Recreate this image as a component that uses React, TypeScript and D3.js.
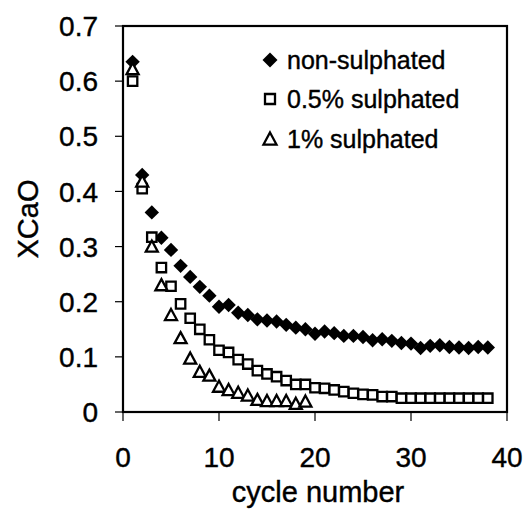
import React from "react";
import * as d3 from "d3";

const cyclesNon = d3.range(1, 39);
const nonSulphated = [
  0.635, 0.43, 0.362, 0.316, 0.294, 0.265, 0.245, 0.227, 0.211, 0.191,
  0.194, 0.18, 0.176, 0.168, 0.166, 0.164, 0.158, 0.153, 0.15, 0.142,
  0.146, 0.143, 0.138, 0.138, 0.136, 0.13, 0.132, 0.129, 0.125, 0.124,
  0.116, 0.12, 0.121, 0.118, 0.117, 0.116, 0.118, 0.117,
];
const cyclesHalf = d3.range(1, 39);
const halfSulphated = [
  0.6, 0.405, 0.317, 0.262, 0.228, 0.196, 0.17, 0.15, 0.131, 0.112,
  0.108, 0.095, 0.087, 0.075, 0.069, 0.064, 0.057, 0.05, 0.05, 0.044,
  0.043, 0.04, 0.037, 0.034, 0.032, 0.031, 0.028, 0.028, 0.025, 0.025,
  0.025, 0.025, 0.025, 0.025, 0.025, 0.025, 0.025, 0.025,
];
const cyclesOne = d3.range(1, 20);
const oneSulphated = [
  0.622, 0.418, 0.3, 0.23, 0.176, 0.134, 0.097, 0.073, 0.066, 0.046,
  0.04, 0.035, 0.03, 0.022, 0.02, 0.02, 0.02, 0.015, 0.019,
];
const xTicks = [0, 10, 20, 30, 40];
const yTicks = [0, 0.1, 0.2, 0.3, 0.4, 0.5, 0.6, 0.7];
const legendLabels = ["non-sulphated", "0.5% sulphated", "1% sulphated"];

const W = 525;
const H = 521;
const M = { left: 123, right: 507, top: 26, bottom: 412 };
const FONT = "'Liberation Sans', Arial, sans-serif";

const diamond = (s: number) => `M0,${-s}L${s},0L0,${s}L${-s},0Z`;
const square = (s: number) => `M${-s},${-s}H${s}V${s}H${-s}Z`;
const triangle = (s: number) => `M0,${-s}L${s},${s * 0.85}L${-s},${s * 0.85}Z`;

const textProps = { fill: "#000", stroke: "#000", strokeWidth: 0.4 };

export default function App() {
  const x = d3.scaleLinear().domain([0, 40]).range([M.left, M.right]);
  const y = d3.scaleLinear().domain([0, 0.7]).range([M.bottom, M.top]);

  const fmtY = (v: number) => (v === 0 ? "0" : d3.format(".1f")(v));

  const legendY = [60, 99, 139];

  return (
    <svg
      width={W}
      height={H}
      style={{ position: "absolute", left: 0, top: 0, background: "#fff" }}
      fontFamily={FONT}
    >
      <rect x={0} y={0} width={W} height={H} fill="#fff" />
      {/* y ticks */}
      {yTicks.map((t) => (
        <g key={"y" + t}>
          <line x1={M.left - 8} x2={M.left} y1={y(t)} y2={y(t)} stroke="#000" strokeWidth={1.2} />
          <text x={98} y={y(t)} dy="0.36em" textAnchor="end" fontSize={28} {...textProps}>
            {fmtY(t)}
          </text>
        </g>
      ))}
      {/* x ticks */}
      {xTicks.map((t) => (
        <g key={"x" + t}>
          <line x1={x(t)} x2={x(t)} y1={M.bottom} y2={M.bottom + 9} stroke="#000" strokeWidth={1.2} />
          <text x={x(t)} y={467} textAnchor="middle" fontSize={28} {...textProps}>
            {t}
          </text>
        </g>
      ))}
      {/* frame */}
      <rect
        x={M.left}
        y={M.top}
        width={M.right - M.left}
        height={M.bottom - M.top}
        fill="none"
        stroke="#000"
        strokeWidth={2.2}
      />
      {/* axis titles */}
      <text x={318} y={502} textAnchor="middle" fontSize={29} {...textProps}>
        cycle number
      </text>
      <text
        transform={`translate(38,${(M.top + M.bottom) / 2}) rotate(-90)`}
        textAnchor="middle"
        fontSize={29}
        {...textProps}
      >
        XCaO
      </text>
      {/* data */}
      {nonSulphated.map((v, i) => (
        <path
          key={"d" + i}
          d={diamond(7.2)}
          transform={`translate(${x(cyclesNon[i])},${y(v)})`}
          fill="#000"
        />
      ))}
      {halfSulphated.map((v, i) => (
        <path
          key={"s" + i}
          d={square(4.7)}
          transform={`translate(${x(cyclesHalf[i])},${y(v)})`}
          fill="#fff"
          stroke="#000"
          strokeWidth={2.3}
        />
      ))}
      {oneSulphated.map((v, i) => (
        <path
          key={"t" + i}
          d={triangle(6)}
          transform={`translate(${x(cyclesOne[i])},${y(v)})`}
          fill="#fff"
          stroke="#000"
          strokeWidth={2.3}
        />
      ))}
      {/* legend */}
      <path d={diamond(7.5)} transform={`translate(270,${legendY[0]})`} fill="#000" />
      <path
        d={square(5)}
        transform={`translate(270,${legendY[1]})`}
        fill="#fff"
        stroke="#000"
        strokeWidth={2.3}
      />
      <path
        d={triangle(6.5)}
        transform={`translate(270,${legendY[2]})`}
        fill="#fff"
        stroke="#000"
        strokeWidth={2.3}
      />
      {legendLabels.map((l, i) => (
        <text key={l} x={287} y={legendY[i]} dy="0.36em" fontSize={25} {...textProps}>
          {l}
        </text>
      ))}
    </svg>
  );
}
